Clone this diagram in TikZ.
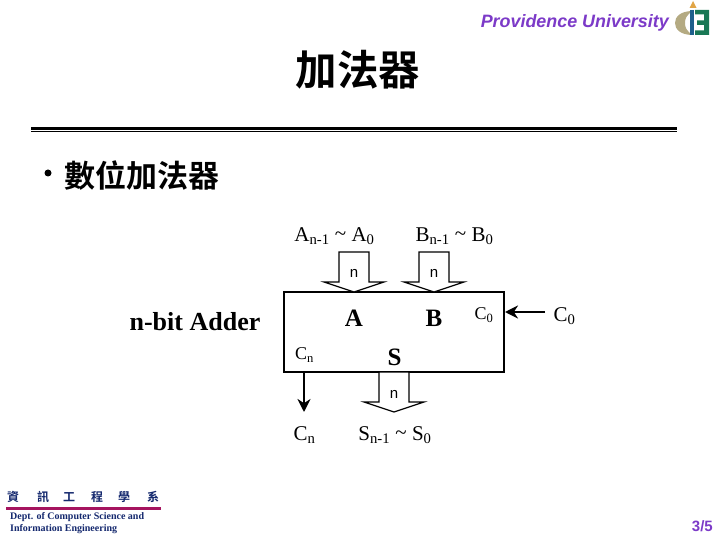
\documentclass[tikz,border=0pt]{standalone}
\usepackage{fontspec}
\setmainfont{Liberation Serif}
\setsansfont{Liberation Sans}
\newfontfamily\cjk{Noto Sans CJK TC}[BoldFont={* Bold}]
\definecolor{provpurple}{RGB}{124,58,200}
\definecolor{footblue}{RGB}{20,40,110}
\definecolor{footred}{RGB}{165,20,95}
\definecolor{logotan}{RGB}{180,170,130}
\definecolor{logogreen}{RGB}{25,120,85}
\definecolor{logoblue}{RGB}{30,95,140}
\definecolor{logoflame}{RGB}{225,165,70}
\usetikzlibrary{arrows.meta}
\tikzset{
  lab/.style={inner sep=0pt,font=\fontsize{21}{24}\selectfont},
  heavy/.style={inner sep=0pt,font=\fontsize{25}{28}\selectfont\bfseries},
  nlab/.style={inner sep=0pt,font=\sffamily\fontsize{15}{18}\selectfont},
  small/.style={inner sep=0pt,font=\fontsize{18}{20}\selectfont},
  blockarrow/.style={draw=black,line width=1.2pt,fill=white,line join=miter},
  thinarrow/.style={draw=black,line width=2.5pt,-{Stealth[length=13pt,width=13pt]}},
  foot/.style={inner sep=0pt,anchor=west,text=footblue,font=\bfseries\fontsize{10}{11}\selectfont},
  footcjk/.style={inner sep=0pt,text=footblue,font=\cjk\bfseries\fontsize{12}{12}\selectfont}
}
\begin{document}
\begin{tikzpicture}[x=1pt,y=-1pt]
\useasboundingbox (0,0) rectangle (720,540);
\fill[white] (0,0) rectangle (720,540);
% header
\node[inner sep=0pt,anchor=east,text=provpurple,font=\sffamily\bfseries\itshape\fontsize{17.9}{20}\selectfont] (prov) at (669,22.5) {Providence University};
% logo
\fill[logotan] (693,11) .. controls (680,11) and (675,17) .. (675,23) .. controls (675,29) and (680,35) .. (693,35) .. controls (686,31) and (685,27) .. (685,23) .. controls (685,19) and (686,15) .. (693,11) -- cycle;
\fill[logoblue] (690,10) rectangle (693.5,35);
\fill[logogreen] (695,10) -- (709,10) -- (709,35) -- (695,35) -- (695,30.5) -- (704,30.5) -- (704,25) -- (697,25) -- (697,20.5) -- (704,20.5) -- (704,14.5) -- (695,14.5) -- cycle;
\fill[logoflame] (693,1) -- (696.5,8) -- (689.5,8) -- cycle;
% title
\node[inner sep=0pt,font=\cjk\bfseries\fontsize{41.5}{44}\selectfont] (title) at (358,70) {加法器};
\draw[line width=3pt] (31,128.5) -- (677,128.5);
\draw[line width=1pt] (31,131.5) -- (677,131.5);
% bullet
\node[circle,fill=black,inner sep=0pt,minimum size=7pt] (bullet) at (48,173) {};
\node[inner sep=0pt,anchor=west,font=\cjk\bfseries\fontsize{31}{33}\selectfont] (sub) at (64,176) {數位加法器};
% block
\node[draw=black,line width=1.2pt,fill=white,minimum width=220pt,minimum height=80pt,inner sep=0pt] (adder) at (394,332) {};
\coordinate (atip) at (354,292);
\coordinate (btip) at (434,292);
\coordinate (stip) at (394,412);
\draw[blockarrow] (atip) -- ++(-30,-10) -- ++(15,0) -- ++(0,-30) -- ++(30,0) -- ++(0,30) -- ++(15,0) -- cycle;
\draw[blockarrow] (btip) -- ++(-30,-10) -- ++(15,0) -- ++(0,-30) -- ++(30,0) -- ++(0,30) -- ++(15,0) -- cycle;
\draw[blockarrow] (stip) -- ++(-30,-10) -- ++(15,0) -- ++(0,-30) -- ++(30,0) -- ++(0,30) -- ++(15,0) -- cycle;
\node[nlab] (na) at (354,273) {n};
\node[nlab] (nb) at (434,273) {n};
\node[nlab] (ns) at (394,394) {n};
% labels
\node[lab] (ain) at (334.5,236) {A\textsubscript{n-1} \raisebox{1pt}{\textasciitilde} A\textsubscript{0}};
\node[lab] (bin) at (454.5,236) {B\textsubscript{n-1} \raisebox{1pt}{\textasciitilde} B\textsubscript{0}};
\node[lab] (sout) at (395,435) {S\textsubscript{n-1} \raisebox{1pt}{\textasciitilde} S\textsubscript{0}};
\node[lab] (cnout) at (304.5,435) {C\textsubscript{n}};
\node[lab] (c0in) at (564.5,316) {C\textsubscript{0}};
\node[heavy] (la) at (354,318) {A};
\node[heavy] (lb) at (434,318) {B};
\node[heavy] (ls) at (394.5,357) {S};
\node[small] (c0) at (484,315) {C\textsubscript{0}};
\node[small] (cn) at (304.5,355) {C\textsubscript{n}};
\node[inner sep=0pt,font=\bfseries\fontsize{26}{28}\selectfont] (nbit) at (195,322) {n-bit Adder};
% small arrows
\coordinate (c0s) at (545,312);
\coordinate (c0e) at (505,312);
\coordinate (cns) at (304,372.5);
\coordinate (cne) at (304,412);
\draw[thinarrow] (c0s) -- (c0e);
\draw[thinarrow] (cns) -- (cne);
% footer
\node[footcjk] (f1) at (13,497) {資};
\node[footcjk] (f2) at (43,497) {訊};
\node[footcjk] (f3) at (69,497) {工};
\node[footcjk] (f4) at (97,497) {程};
\node[footcjk] (f5) at (124,497) {學};
\node[footcjk] (f6) at (153,497) {系};
\draw[footred,line width=2.5pt] (6,508.5) -- (160.5,508.5);
\node[foot] (d1) at (10,517) {Dept. of Computer Science and};
\node[foot] (d2) at (10,529) {Information Engineering};
\node[inner sep=0pt,anchor=east,text=provpurple,font=\sffamily\bfseries\fontsize{15}{17}\selectfont] (pg) at (713,526) {3/5};
\end{tikzpicture}
\end{document}
